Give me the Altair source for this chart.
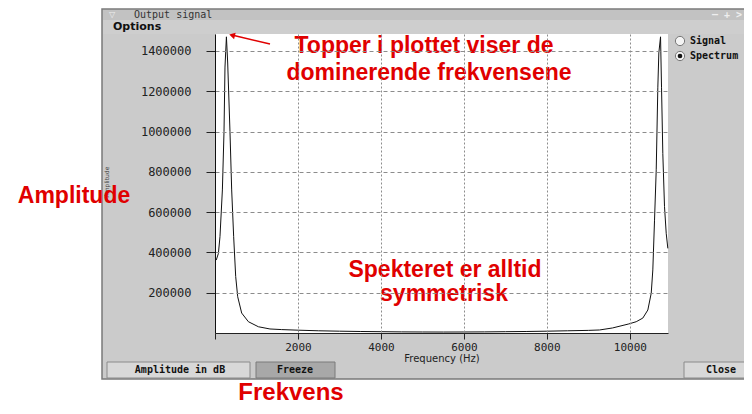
import altair as alt
import pandas as pd

# ---- spectrum data ----
freq_hz = [30, 82, 120, 178, 217, 241, 275, 306, 361, 402,
           450, 499, 547, 643, 805, 1046, 1325, 1600, 2000, 2500,
           3000, 3500, 4000, 4500, 5000, 5512, 6000, 6500, 7000, 7500,
           8000, 8500, 9000, 9270, 9583, 9976, 10154, 10313, 10434, 10516,
           10554, 10595, 10636, 10675, 10699, 10740, 10764, 10795, 10836, 10877,
           10916]
amplitude = [362000, 395000, 478000, 710000, 1000000, 1320000, 1470000, 1340000, 1000000, 710000,
             478000, 280000, 180000, 99000, 56000, 31000, 20000, 17000, 14000, 11000,
             9000, 7500, 6500, 5500, 5000, 4800, 5000, 5500, 6500, 7500,
             9000, 11000, 13000, 15000, 25000, 45000, 56000, 74000, 114000, 198000,
             313000, 560000, 810000, 1220000, 1390000, 1470000, 1220000, 890000, 627000, 495000,
             420000]

x_ticks = [0, 2000, 4000, 6000, 8000, 10000]
y_ticks = [200000, 400000, 600000, 800000, 1000000, 1200000, 1400000]

window_title = "Output signal"
menu_label = "Options"
radio_labels = ["Signal", "Spectrum"]
button_labels = ["Amplitude in dB", "Freeze", "Close"]
note_top = ["Topper i plottet viser de", "dominerende frekvensene"]
note_mid = ["Spekteret er alltid", "symmetrisk"]
note_left = "Amplitude"
note_bottom = "Frekvens"
x_title = "Frequency (Hz)"

df = pd.DataFrame({"freq": freq_hz, "amp": amplitude})
base = alt.Chart(pd.DataFrame({"k": [0]}))

RED = "#e00000"
MONO = "DejaVu Sans Mono"
SANS = "Liberation Sans"


def box(x1, x2, y1, y2, fill, stroke=None, sw=1):
    kw = dict(fill=fill)
    if stroke:
        kw.update(stroke=stroke, strokeWidth=sw)
    return base.mark_rect(**kw).encode(
        x=alt.value(x1), x2=alt.value(x2), y=alt.value(y1), y2=alt.value(y2))


def label(t, x, y, size, color, font, weight="normal", align="center", angle=0):
    return base.mark_text(text=t, fontSize=size, color=color, font=font,
                          fontWeight=weight, align=align, baseline="middle",
                          angle=angle).encode(x=alt.value(x), y=alt.value(y))


W, H = 453, 299

chrome = [
    box(-113, 532, -25, 345, "#cbcbcb", "#7a7a7a", 1.5),
    box(-112, 532, -24, -14, "#c2c2c2"),
    box(-112, 532, -14, 0, "#cecece"),
    box(0, W, 0, H, "#ffffff"),
    box(-108, 35, 328, 344, "#d8d8d8", "#8a8a8a"),
    box(41, 120, 328, 344, "#a8a8a8", "#7a7a7a"),
    box(469, 532, 328, 344, "#d8d8d8", "#8a8a8a"),
]

line = alt.Chart(df).mark_line(color="#111111", strokeWidth=1).encode(
    x=alt.X("freq:Q",
            scale=alt.Scale(domain=[0, 10920], nice=False, zero=True),
            axis=alt.Axis(values=x_ticks, format="d",
                          labelExpr="datum.value == 0 ? '' : datum.label",
                          title=x_title, titleFont="DejaVu Sans", titleFontSize=10,
                          titleFontWeight="normal", titleColor="#222",
                          titleBaseline="middle", titleY=25,
                          labelFont=MONO, labelFontSize=11, labelColor="#222",
                          labelPadding=2, tickSize=6, tickColor="#222",
                          domainColor="#222", grid=True, gridColor="#8c8c8c",
                          gridDash=[2, 2], zindex=1)),
    y=alt.Y("amp:Q",
            scale=alt.Scale(domain=[0, 1484000], nice=False),
            axis=alt.Axis(values=y_ticks, format="d", title=None,
                          labelFont=MONO, labelFontSize=12, labelColor="#222",
                          labelPadding=15, tickSize=9, tickColor="#222",
                          domainColor="#111", grid=True, gridColor="#8c8c8c",
                          gridDash=[4, 3], zindex=1)),
)

texts = [
    label("▽", -103, -19, 8, "#eeeeee", "DejaVu Sans"),
    label(window_title, -81, -19, 10, "#333333", MONO, align="left"),
    label("— + >", 497, -19, 10, "#eeeeee", MONO, weight="bold", align="left"),
    label(menu_label, -102, -7, 11, "#111111", "DejaVu Sans", weight="bold", align="left"),
    label(radio_labels[0], 475, 7, 10, "#111111", MONO, weight="bold", align="left"),
    label(radio_labels[1], 475, 22, 10, "#111111", MONO, weight="bold", align="left"),
    label(button_labels[0], -35, 336, 10, "#111111", MONO, weight="bold"),
    label(button_labels[1], 80, 336, 10, "#111111", MONO, weight="bold"),
    label(button_labels[2], 506, 336, 10, "#111111", MONO, weight="bold"),
    label(note_left, -108, 148, 6, "#444444", "DejaVu Sans", angle=270),
    label(note_top[0], 209, 12, 23, RED, SANS, weight="bold"),
    label(note_top[1], 214, 39, 23, RED, SANS, weight="bold"),
    label(note_mid[0], 230, 236, 23, RED, SANS, weight="bold"),
    label(note_mid[1], 229, 260, 23, RED, SANS, weight="bold"),
    label(note_left, -141, 162, 23, RED, SANS, weight="bold"),
    label(note_bottom, 76, 359, 24, RED, SANS, weight="bold"),
]

radios = [
    base.mark_point(shape="circle", filled=True, fill="#f4f4f4", stroke="#777777",
                    strokeWidth=1, size=85, opacity=1).encode(x=alt.value(465), y=alt.value(7)),
    base.mark_point(shape="circle", filled=True, fill="#f4f4f4", stroke="#777777",
                    strokeWidth=1, size=85, opacity=1).encode(x=alt.value(465), y=alt.value(22)),
    base.mark_point(shape="circle", filled=True, color="#111111",
                    size=22, opacity=1).encode(x=alt.value(465), y=alt.value(22)),
]

arrow = [
    base.mark_rule(color=RED, strokeWidth=1.5).encode(
        x=alt.value(55), y=alt.value(10), x2=alt.value(19), y2=alt.value(1.5)),
    base.mark_point(shape="triangle", filled=True, color=RED, size=45, angle=284,
                    opacity=1).encode(x=alt.value(18), y=alt.value(1.5)),
]

chart = alt.layer(*chrome, line, *radios, *arrow, *texts).properties(
    width=W, height=H,
    autosize=alt.AutoSizeParams(type="none"),
    padding={"left": 207, "top": 26, "right": 76, "bottom": 73},
    background="white",
).configure_view(stroke=None)

chart.save("out.html", embed_options={"renderer": "svg", "actions": False})
